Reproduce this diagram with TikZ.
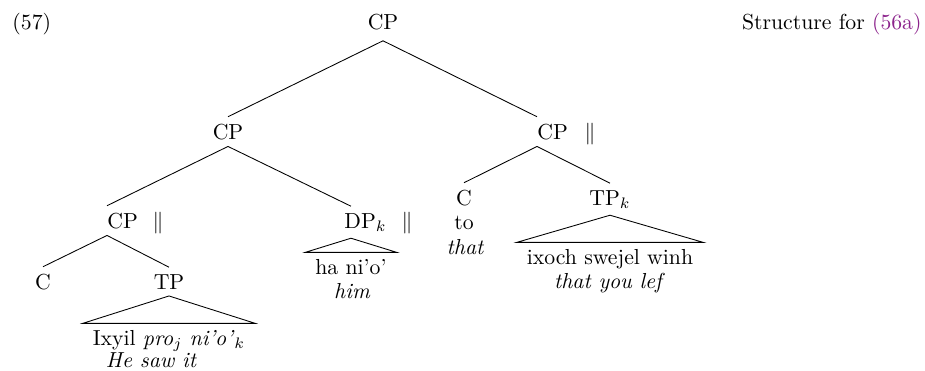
\documentclass[tikz,border=0pt]{standalone}
\definecolor{refpurple}{RGB}{140,35,140}
\begin{document}
\begin{tikzpicture}[x=0.46pt,y=-0.46pt]
% Styles
\tikzstyle{cat}=[inner sep=3pt,anchor=base]
\tikzstyle{barcat}=[inner xsep=0pt,inner ysep=3pt,anchor=base west]
\tikzstyle{leaf}=[inner xsep=4.5pt,inner ysep=2.8pt,anchor=base]
\tikzstyle{gloss}=[inner sep=0pt,anchor=base,font=\itshape]
\tikzstyle{branch}=[thin]

\useasboundingbox (0,0) rectangle (925,370);

% Example number and caption
\node[anchor=base west,inner sep=0pt] (exnum) at (12,29) {(57)};
\node[anchor=base east,inner sep=0pt] (caption) at (922,29) {Structure for \textcolor{refpurple}{(56a)}};

% Category nodes
\node[cat,inner ysep=5pt] (root) at (383,29) {CP};
\node[cat] (cpA) at (228,139) {CP};
\node[barcat] (cpB) at (537,139) {CP};
\node[cat] (barB) at (590,139) {$\|$};
\node[barcat] (cpC) at (107,228) {CP};
\node[cat] (barC) at (158,228) {$\|$};
\node[barcat] (dpk) at (344,228) {DP$_k$};
\node[cat] (barD) at (407,228) {$\|$};
\node[cat] (cR) at (464,205) {C};
\node[cat] (tpk) at (610,205) {TP$_k$};
\node[cat] (cL) at (43,289) {C};
\node[cat] (tp) at (169,289) {TP};

% Words under the heads and triangles
\node[inner sep=0pt,anchor=base] (cto) at (464,229) {to};
\node[gloss] (cthat) at (465,254) {that};
\node[leaf] (dpleaf) at (351,274) {ha ni'o'};
\node[gloss] (dpgloss) at (352,298) {him};
\node[leaf] (tpkleaf) at (610,264) {ixoch swejel winh};
\node[gloss] (tpkgloss) at (608,288) {that you lef};
\node[leaf] (tpleaf) at (169,345) {Ixyil \textit{pro}$_j$ \textit{ni'o'}$_k$};
\node[gloss] (tpgloss) at (151,367) {He saw it};

% Branches
\draw[branch] (root.south) -- (cpA.north);
\draw[branch] (root.south) -- (cpB.north west);
\draw[branch] (cpA.south) -- (cpC.north west);
\draw[branch] (cpA.south) -- ([xshift=3.2pt]dpk.north west);
\draw[branch] (cpB.south west) -- (cR.north);
\draw[branch] (cpB.south west) -- (tpk.north);
\draw[branch] (cpC.south west) -- (cL.north);
\draw[branch] (cpC.south west) -- (tp.north);

% Triangles
\draw[branch] ([xshift=3.2pt]dpk.south west) -- (dpleaf.north west) -- (dpleaf.north east) -- cycle;
\draw[branch] (tpk.south) -- (tpkleaf.north west) -- (tpkleaf.north east) -- cycle;
\draw[branch] (tp.south) -- (tpleaf.north west) -- (tpleaf.north east) -- cycle;
\end{tikzpicture}
\end{document}
